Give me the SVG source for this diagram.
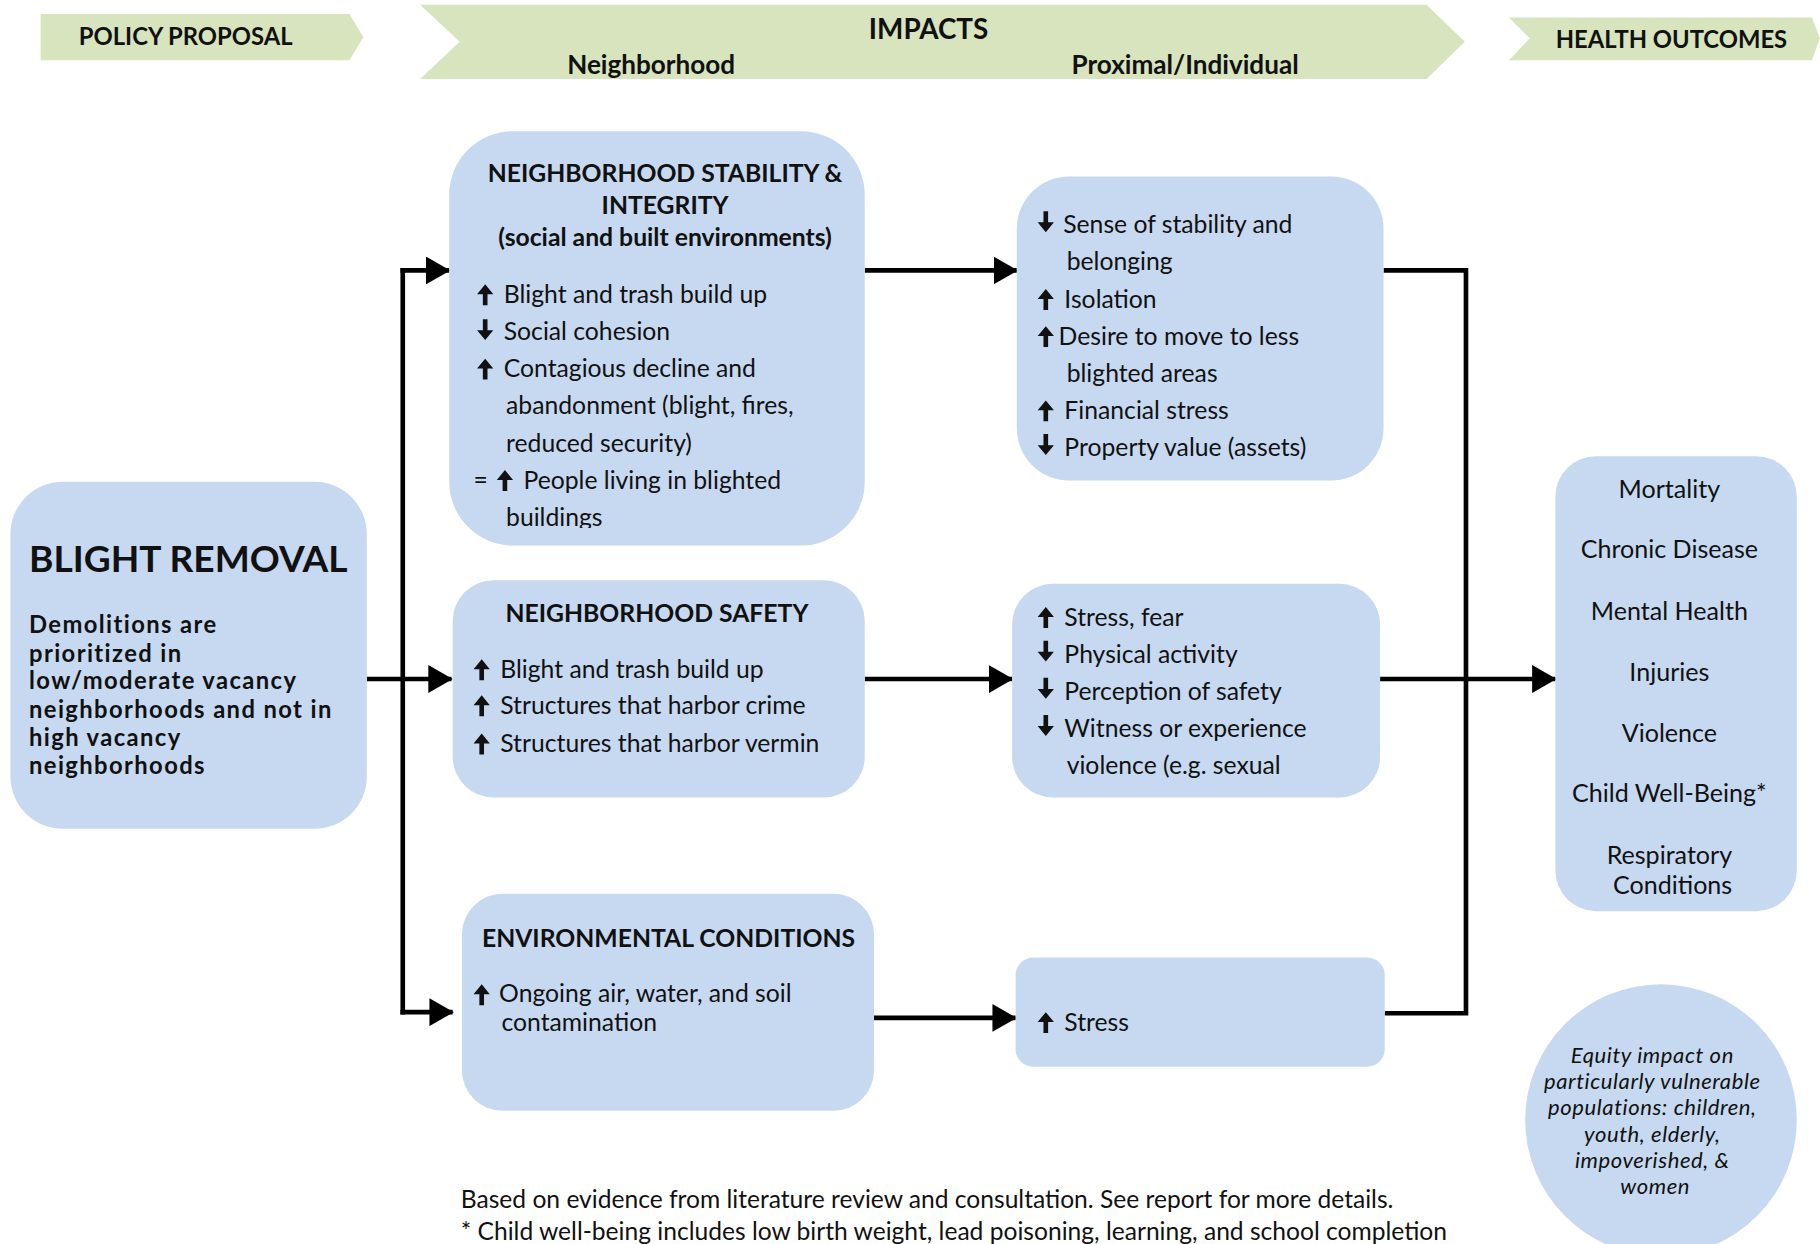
<svg xmlns="http://www.w3.org/2000/svg" width="1820" height="1244" viewBox="0 0 1820 1244">
<defs>
<style>
.banner{fill:#d7e4bd}
.box{fill:#c6d9f0}
.t{font-family:Lato,"Liberation Sans",sans-serif;fill:#111}
.b{font-weight:bold}
.h{font-size:21.3px;font-weight:bold}
.hb{font-size:20.5px;font-weight:bold}
.sb{font-size:22.5px;font-weight:bold}
.i{font-size:21.3px}
.c{text-anchor:middle}
.ln{fill:none;stroke:#000;stroke-width:4}
</style>
<marker id="ah" markerUnits="userSpaceOnUse" markerWidth="22" markerHeight="24" refX="20" refY="12" orient="auto">
<path d="M0,0 L21,12 L0,24 z" fill="#000"/>
</marker>
<symbol id="up" viewBox="0 0 14 18" overflow="visible">
<path d="M7,0 L14,8.5 L9,8.5 L9,18 L5,18 L5,8.5 L0,8.5 z" fill="#111"/>
</symbol>
<symbol id="dn" viewBox="0 0 14 18" overflow="visible">
<path d="M7,18 L14,9.5 L9,9.5 L9,0 L5,0 L5,9.5 L0,9.5 z" fill="#111"/>
</symbol>
<clipPath id="clipStab"><rect x="380" y="100" width="380" height="355"/></clipPath>
</defs>
<rect width="1820" height="1244" fill="#fff"/>
<g transform="scale(1.16071)">
<g id="banners">
<g id="banner-policy">
<polygon class="banner" points="35,12 301,12 313,32 301,52 35,52"/>
<text class="t hb c" x="160" y="39">POLICY PROPOSAL</text>
</g>
<g id="banner-impacts">
<polygon class="banner" points="362,4 1229,4 1262,36 1229,68 362,68 396,36"/>
<text class="t b c" x="800" y="34" style="font-size:24px">IMPACTS</text>
<text class="t sb c" x="561" y="64">Neighborhood</text>
<text class="t sb c" x="1021" y="64">Proximal/Individual</text>
</g>
<g id="banner-health">
<polygon class="banner" points="1300,15 1561,15 1568,33 1561,52 1300,52 1318,33"/>
<text class="t hb c" x="1440" y="41">HEALTH OUTCOMES</text>
</g>
</g>

<g id="connectors">
<line class="ln" x1="316" y1="585" x2="389" y2="585" marker-end="url(#ah)"/>
<line class="ln" x1="347" y1="231" x2="347" y2="874"/>
<line class="ln" x1="345" y1="233" x2="387" y2="233" marker-end="url(#ah)"/>
<line class="ln" x1="345" y1="872" x2="390" y2="872" marker-end="url(#ah)"/>
<line class="ln" x1="745" y1="233" x2="876" y2="233" marker-end="url(#ah)"/>
<line class="ln" x1="745" y1="585" x2="872" y2="585" marker-end="url(#ah)"/>
<line class="ln" x1="753" y1="877" x2="875" y2="877" marker-end="url(#ah)"/>
<polyline class="ln" points="1192,233 1263,233 1263,873 1193,873"/>
<line class="ln" x1="1189" y1="585" x2="1340" y2="585" marker-end="url(#ah)"/>
</g>

<g id="node-blight-removal">
<rect class="box" x="9" y="415" width="307" height="299" rx="45"/>
<text class="t b" x="25" y="493" style="font-size:32px">BLIGHT REMOVAL</text>
<text class="t b" style="font-size:20.5px;letter-spacing:1.2px">
<tspan x="25" y="545">Demolitions are</tspan>
<tspan x="25" y="570">prioritized in</tspan>
<tspan x="25" y="594">low/moderate vacancy</tspan>
<tspan x="25" y="619">neighborhoods and not in</tspan>
<tspan x="25" y="643">high vacancy</tspan>
<tspan x="25" y="667">neighborhoods</tspan>
</text>
</g>

<g id="node-stability">
<rect class="box" x="387" y="113" width="358" height="357" rx="55"/>
<text class="t h c" x="573" y="157">NEIGHBORHOOD STABILITY &amp;</text>
<text class="t h c" x="573" y="184">INTEGRITY</text>
<text class="t h c" x="573" y="212">(social and built environments)</text>
<g clip-path="url(#clipStab)">
<use href="#up" x="411" y="245" width="14" height="18"/>
<use href="#dn" x="411" y="275" width="14" height="18"/>
<use href="#up" x="411" y="309" width="14" height="18"/>
<text class="t i" x="408" y="421">=</text>
<use href="#up" x="428" y="405" width="14" height="18"/>
<text class="t i">
<tspan x="434" y="261">Blight and trash build up</tspan>
<tspan x="434" y="293">Social cohesion</tspan>
<tspan x="434" y="325">Contagious decline and</tspan>
<tspan x="436" y="357">abandonment (blight, fires,</tspan>
<tspan x="436" y="389">reduced security)</tspan>
<tspan x="451" y="421">People living in blighted</tspan>
<tspan x="436" y="453">buildings</tspan>
</text>
</g>
</g>

<g id="node-safety">
<rect class="box" x="390" y="500" width="355" height="187" rx="35"/>
<text class="t h c" x="566" y="536">NEIGHBORHOOD SAFETY</text>
<use href="#up" x="408" y="568" width="14" height="18"/>
<use href="#up" x="408" y="599" width="14" height="18"/>
<use href="#up" x="408" y="632" width="14" height="18"/>
<text class="t i">
<tspan x="431" y="584">Blight and trash build up</tspan>
<tspan x="431" y="615">Structures that harbor crime</tspan>
<tspan x="431" y="648">Structures that harbor vermin</tspan>
</text>
</g>

<g id="node-environment">
<rect class="box" x="398" y="770" width="355" height="187" rx="35"/>
<text class="t h c" x="576" y="816">ENVIRONMENTAL CONDITIONS</text>
<use href="#up" x="408" y="848" width="14" height="18"/>
<text class="t i">
<tspan x="430" y="863">Ongoing air, water, and soil</tspan>
<tspan x="432" y="888">contamination</tspan>
</text>
</g>

<g id="node-proximal-stability">
<rect class="box" x="876" y="152" width="316" height="262" rx="45"/>
<use href="#dn" x="894" y="182" width="14" height="18"/>
<use href="#up" x="894" y="249" width="14" height="18"/>
<use href="#up" x="894" y="281" width="14" height="18"/>
<use href="#up" x="894" y="345" width="14" height="18"/>
<use href="#dn" x="894" y="374" width="14" height="18"/>
<text class="t i">
<tspan x="916" y="201">Sense of stability and</tspan>
<tspan x="919" y="233">belonging</tspan>
<tspan x="917" y="265">Isolation</tspan>
<tspan x="912" y="297">Desire to move to less</tspan>
<tspan x="919" y="329">blighted areas</tspan>
<tspan x="917" y="361">Financial stress</tspan>
<tspan x="917" y="393">Property value (assets)</tspan>
</text>
</g>

<g id="node-proximal-safety">
<rect class="box" x="872" y="503" width="317" height="184" rx="35"/>
<use href="#up" x="894" y="523" width="14" height="18"/>
<use href="#dn" x="894" y="552" width="14" height="18"/>
<use href="#dn" x="894" y="584" width="14" height="18"/>
<use href="#dn" x="894" y="616" width="14" height="18"/>
<text class="t i">
<tspan x="917" y="539">Stress, fear</tspan>
<tspan x="917" y="571">Physical activity</tspan>
<tspan x="917" y="603">Perception of safety</tspan>
<tspan x="917" y="635">Witness or experience</tspan>
<tspan x="919" y="667">violence (e.g. sexual</tspan>
</text>
</g>

<g id="node-proximal-environment">
<rect class="box" x="875" y="825" width="318" height="94" rx="15"/>
<use href="#up" x="894" y="872" width="14" height="18"/>
<text class="t i" x="917" y="888">Stress</text>
</g>

<g id="node-health-outcomes">
<rect class="box" x="1340" y="393" width="208" height="392" rx="35"/>
<text class="t c" style="font-size:21.6px">
<tspan x="1441" y="429">Mortality</tspan>
<tspan x="1441" y="481">Chronic Disease</tspan>
<tspan x="1441" y="534">Mental Health</tspan>
<tspan x="1441" y="587">Injuries</tspan>
<tspan x="1441" y="639">Violence</tspan>
<tspan x="1441" y="691">Child Well-Being*</tspan>
<tspan x="1441" y="744">Respiratory</tspan>
<tspan x="1441" y="770">Conditions</tspan>
</text>
</g>

<g id="node-equity">
<circle class="box" cx="1431" cy="965" r="117"/>
<text class="t c" style="font-size:19px;letter-spacing:0.5px;font-style:italic">
<tspan x="1426" y="916">Equity impact on</tspan>
<tspan x="1426" y="938">particularly vulnerable</tspan>
<tspan x="1426" y="961">populations: children,</tspan>
<tspan x="1426" y="984">youth, elderly,</tspan>
<tspan x="1426" y="1006">impoverished, &amp;</tspan>
<tspan x="1426" y="1029">women</tspan>
</text>
</g>

<g id="footnotes">
<text class="t" style="font-size:21.2px" x="397" y="1041">Based on evidence from literature review and consultation. See report for more details.</text>
<text class="t" style="font-size:21.2px" x="397" y="1068">* Child well-being includes low birth weight, lead poisoning, learning, and school completion</text>
</g>
</g>
</svg>
